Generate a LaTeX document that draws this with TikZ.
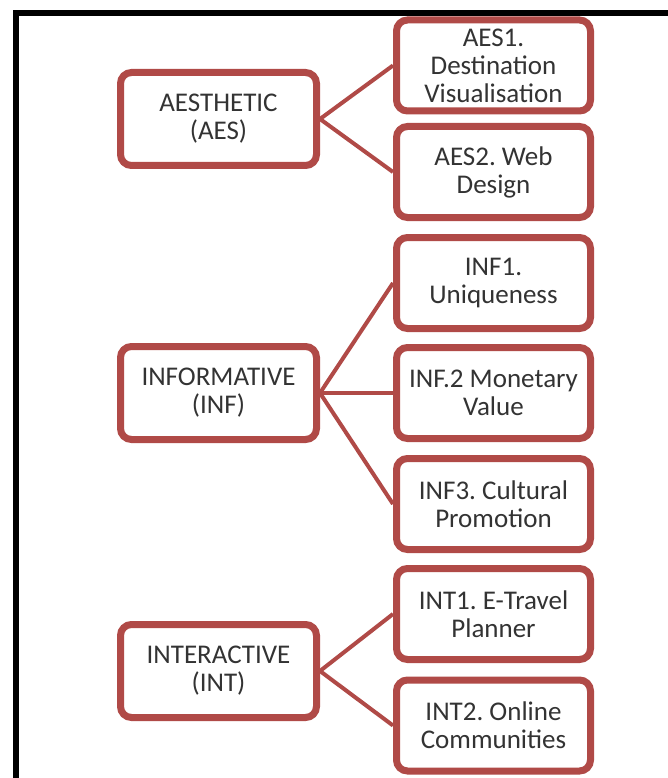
\documentclass[tikz,border=0pt]{standalone}
\usepackage{fontspec}
\setmainfont{Carlito}
\usetikzlibrary{shadows}
\definecolor{boxred}{HTML}{B04A47}
\definecolor{boxtext}{HTML}{333333}
\frenchspacing
\begin{document}
\begin{tikzpicture}[x=1pt,y=-1pt,
    dimbox/.style={draw=boxred,line width=7pt,fill=white,rounded corners=11pt,
      minimum width=196pt,minimum height=93pt,align=center,text=boxtext,
      font=\fontsize{27}{28}\selectfont,
      drop shadow={shadow xshift=2pt,shadow yshift=-3pt,opacity=0.3}},
    subbox/.style={dimbox,minimum width=194pt,minimum height=91pt},
    link/.style={draw=boxred,line width=4pt}]
      \useasboundingbox (0,0) rectangle (667,778);
      % frame
      \draw[line width=6pt,line cap=rect] (16,778) -- (16,13) -- (667,13);
      % nodes
      \path
        (218.5,119) node[dimbox] (aes){AESTHETIC\\(AES)}
        (218.5,393) node[dimbox] (inf){INFORMATIVE\\(INF)}
        (218.5,671) node[dimbox] (int){INTERACTIVE\\(INT)}
        (493.5,65.5) node[subbox] (aes1){AES1.\\Destination\\Visualisation}
        (493.5,172) node[subbox] (aes2){AES2. Web\\Design}
        (493.5,283) node[subbox] (inf1){INF1.\\Uniqueness}
        (493.5,393) node[subbox] (inf2){INF.2 Monetary\\Value}
        (493.5,504) node[subbox] (inf3){INF3. Cultural\\Promotion}
        (493.5,614) node[subbox] (int1){INT1. E-Travel\\Planner}
        (493.5,725.5) node[subbox] (int2){INT2. Online\\Communities};
      \begin{scope}[link]
        \draw (aes.east) to (aes1.west);
        \draw (aes.east) to (aes2.west);
        \draw (inf.east) to (inf1.west);
        \draw (inf.east) to (inf2.west);
        \draw (inf.east) to (inf3.west);
        \draw (int.east) to (int1.west);
        \draw (int.east) to (int2.west);
      \end{scope}
    \end{tikzpicture}
\end{document}
